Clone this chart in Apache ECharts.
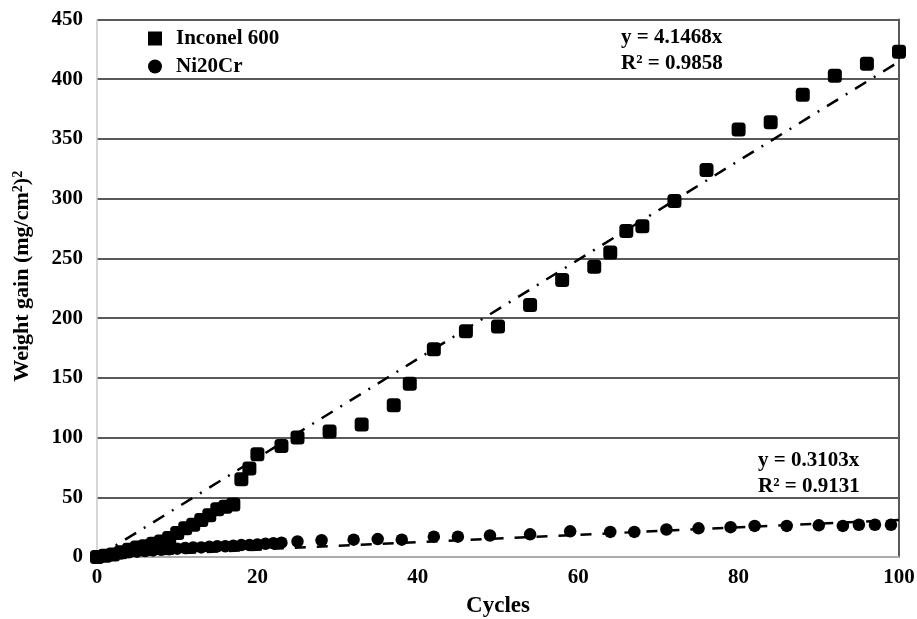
<!DOCTYPE html>
<html>
<head>
<meta charset="utf-8">
<script src="https://cdn.jsdelivr.net/npm/echarts@6/dist/echarts.min.js"></script>
<style>html,body{margin:0;padding:0;background:#fff}#c{width:917px;height:619px}</style>
</head>
<body>
<div id="c"></div>
<script>
var inconelCycles = [0,1,2,3,4,5,6,7,8,9,10,11,12,13,14,15,16,17,18,19,20,23,25,29,33,37,39,42,46,50,54,58,62,64,66,68,72,76,80,84,88,92,96,100];
var inconelGain = [0,1,2,4,6,8,9,11,13,16,20,24,27,31,35,40,42,44,65,74,86,93,100,105,111,127,145,174,189,193,211,232,243,255,273,277,298,324,358,364,387,403,413,423];
var niCrCycles = [0,1,2,3,4,5,6,7,8,9,10,11,12,13,14,15,16,17,18,19,20,21,22,23,25,28,32,35,38,42,45,49,54,59,64,67,71,75,79,82,86,90,93,95,97,99];
var niCrGain = [0,1,2,3,4,4.5,5,5.5,6,6.5,7,7.5,8,8,8.5,9,9,9.5,10,10,10.5,11,11.5,12,13,14,14.5,15,14.5,17,17,18,19,21.5,21,21,23,24,25,26,26,26.5,26,27,27,27];
var inconelTrendX = [0,100];
var inconelTrendY = [0,414.68];
var niCrTrendX = [0,100];
var niCrTrendY = [0,31.03];
var xTicks = [0,20,40,60,80,100];
var yTicks = [0,50,100,150,200,250,300,350,400,450];
var seriesNames = ['Inconel 600','Ni20Cr'];
var inconelEq = ['y = 4.1468x','R² = 0.9858'];
var niCrEq = ['y = 0.3103x','R² = 0.9131'];

function zip(a,b){return a.map(function(v,i){return [v,b[i]];});}

var font = 'Liberation Serif';
var eqFont = 'bold 21px "Liberation Serif"';
var chart = echarts.init(document.getElementById('c'));
chart.setOption({
  backgroundColor:'#fff',
  animation:false,
  textStyle:{fontFamily:font},
  grid:{left:97,right:18,top:19.5,bottom:62,containLabel:false,outerBoundsMode:'none'},
  legend:{
    orient:'vertical',left:148,top:28,padding:0,itemGap:7,itemWidth:14,itemHeight:14,
    data:[{name:seriesNames[0],icon:'rect'},{name:seriesNames[1],icon:'circle'}],
    textStyle:{fontFamily:font,fontWeight:'bold',fontSize:21,color:'#000',padding:[0,0,0,9]}
  },
  xAxis:{
    type:'value',min:xTicks[0],max:xTicks[xTicks.length-1],interval:20,
    name:'Cycles',nameLocation:'middle',nameGap:38,
    nameTextStyle:{fontFamily:font,fontWeight:'bold',fontSize:23,color:'#000'},
    axisLine:{show:true,onZero:false,lineStyle:{color:'#c8c8c8',width:1.5}},
    axisTick:{show:false},
    axisLabel:{fontFamily:font,fontWeight:'bold',fontSize:21,color:'#000',margin:10},
    splitLine:{show:false}
  },
  yAxis:[{
    type:'value',min:yTicks[0],max:yTicks[yTicks.length-1],interval:50,
    name:'Weight gain (mg/cm{s|2}){s|2}',nameLocation:'middle',nameGap:64,
    nameTextStyle:{fontFamily:font,fontWeight:'bold',fontSize:22,color:'#000',padding:[0,0,0,24],
      rich:{s:{fontFamily:font,fontWeight:'bold',fontSize:14,color:'#000',verticalAlign:'top',lineHeight:22}}},
    axisLine:{show:true,lineStyle:{color:'#c8c8c8',width:1.5}},
    axisTick:{show:false},
    axisLabel:{fontFamily:font,fontWeight:'bold',fontSize:21,color:'#000',margin:14},
    splitLine:{show:true,lineStyle:{color:'#595959',width:2}}
  },{
    type:'value',min:0,max:450,interval:50,position:'right',
    axisLine:{show:true,lineStyle:{color:'#595959',width:2}},
    axisTick:{show:false},axisLabel:{show:false},splitLine:{show:false}
  }],
  graphic:[
    {type:'text',left:621,top:27,style:{text:inconelEq[0],font:eqFont,fill:'#000'}},
    {type:'text',left:621,top:53,style:{text:inconelEq[1],font:eqFont,fill:'#000'}},
    {type:'text',left:758,top:450,style:{text:niCrEq[0],font:eqFont,fill:'#000'}},
    {type:'text',left:758,top:476,style:{text:niCrEq[1],font:eqFont,fill:'#000'}}
  ],
  series:[
    {name:seriesNames[0],type:'scatter',symbol:'roundRect',symbolSize:14,
     itemStyle:{color:'#000',opacity:1},data:zip(inconelCycles,inconelGain),z:3},
    {name:seriesNames[1],type:'scatter',symbol:'circle',symbolSize:12.5,
     itemStyle:{color:'#000',opacity:1},data:zip(niCrCycles,niCrGain),z:3},
    {name:'trend1',type:'line',symbol:'none',data:zip(inconelTrendX,inconelTrendY),
     lineStyle:{color:'#000',width:2.5,type:[13,9,2,9]},z:4,silent:true},
    {name:'trend2',type:'line',symbol:'none',data:zip(niCrTrendX,niCrTrendY),
     lineStyle:{color:'#000',width:2.5,type:[11,11]},z:4,silent:true}
  ]
});
</script>
</body>
</html>
